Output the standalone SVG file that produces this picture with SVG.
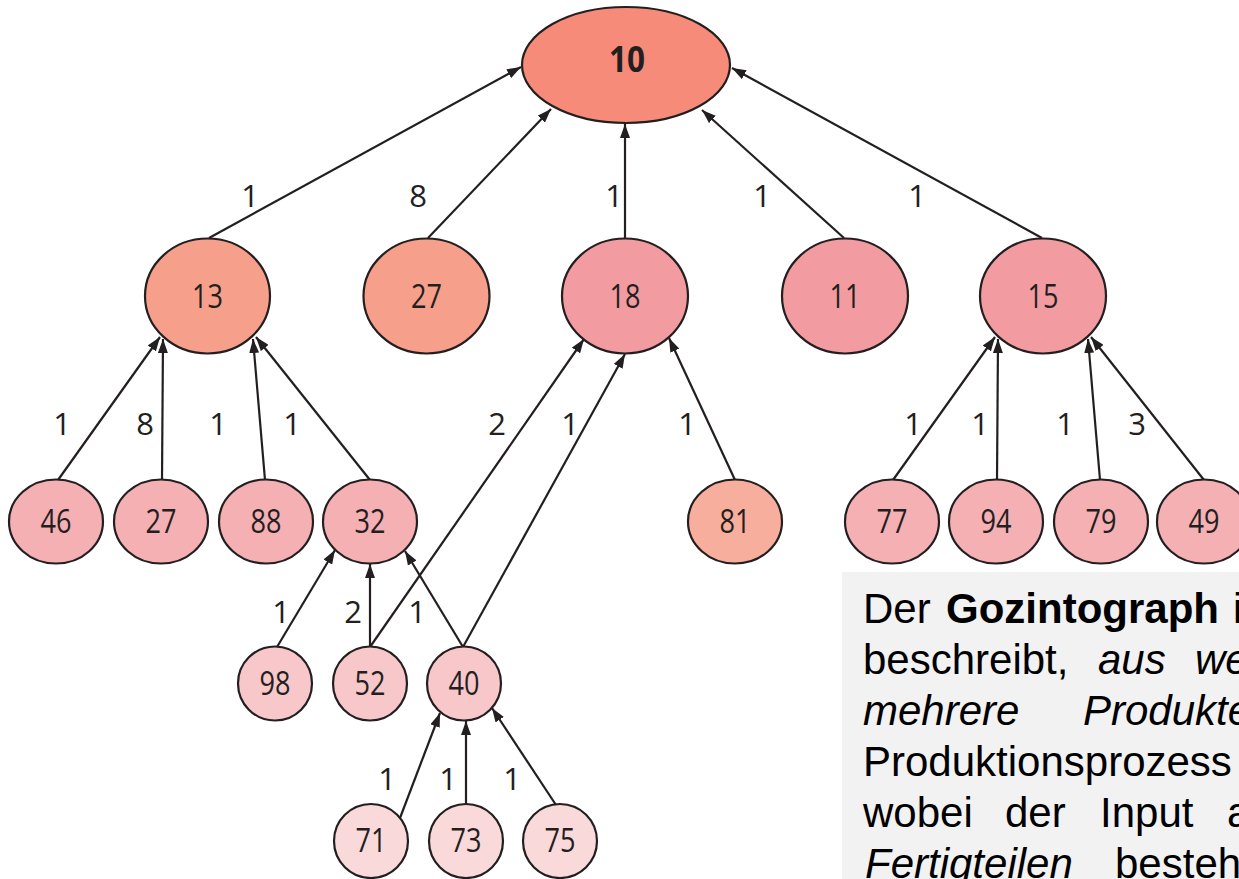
<svg xmlns="http://www.w3.org/2000/svg" width="1239" height="879" viewBox="0 0 1239 879">
<style>
  .n { stroke:#231f20; stroke-width:2.2; }
  .lv0 { fill:#f58b78; }
  .lv1a { fill:#f6a08b; }
  .lv1b { fill:#f29ca1; }
  .lv2 { fill:#f5b0b4; }
  .lv2p { fill:#f8ae9c; }
  .lv3 { fill:#f8c7ca; }
  .lv4 { fill:#fad9db; }
  .t { font-family:"Open Sans","Noto Sans",sans-serif; font-size:33px; fill:#231f20; text-anchor:middle; }
  .tb { font-family:"Open Sans","Noto Sans",sans-serif; font-size:36px; font-weight:bold; fill:#231f20; text-anchor:middle; }
  .e { stroke:#231f20; stroke-width:2.2; fill:none; marker-end:url(#ah); }
  .l { font-family:"Open Sans","Noto Sans",sans-serif; font-size:31px; fill:#231f20; text-anchor:middle; }
  .d { font-family:"Liberation Sans",Arial,sans-serif; font-size:42px; fill:#000; }
  .b { font-weight:bold; }
  .i { font-style:italic; }
</style>
<defs>
  <marker id="ah" viewBox="0 0 14 10" refX="14" refY="5" markerWidth="14" markerHeight="10" markerUnits="userSpaceOnUse" orient="auto">
    <path d="M0,0 L14,5 L0,10 z" fill="#231f20"/>
  </marker>
</defs>
<rect width="1239" height="879" fill="#fff"/>

<g id="connectors">
  <line class="e" x1="209" y1="238" x2="521" y2="67"/>
  <line class="e" x1="428" y1="238" x2="551" y2="109"/>
  <line class="e" x1="625" y1="239" x2="625" y2="124"/>
  <line class="e" x1="844" y1="238" x2="702" y2="110"/>
  <line class="e" x1="1042" y1="238" x2="732" y2="68"/>

  <line class="e" x1="58" y1="480" x2="160" y2="337"/>
  <line class="e" x1="162" y1="480" x2="163" y2="339"/>
  <line class="e" x1="265" y1="480" x2="253" y2="339"/>
  <line class="e" x1="370" y1="480" x2="256" y2="337"/>

  <line class="e" x1="893" y1="480" x2="995" y2="337"/>
  <line class="e" x1="997" y1="480" x2="998" y2="339"/>
  <line class="e" x1="1100" y1="480" x2="1088" y2="339"/>
  <line class="e" x1="1204" y1="480" x2="1091" y2="337"/>

  <line class="e" x1="735" y1="480" x2="669" y2="338"/>
  <line class="e" x1="370" y1="647" x2="584" y2="339"/>
  <line class="e" x1="463" y1="647" x2="625" y2="354"/>

  <line class="e" x1="277" y1="647" x2="335" y2="550"/>
  <line class="e" x1="370" y1="647" x2="370" y2="564"/>
  <line class="e" x1="463" y1="647" x2="405" y2="551"/>

  <line class="e" x1="400" y1="818" x2="440" y2="713"/>
  <line class="e" x1="466" y1="804" x2="466" y2="721"/>
  <line class="e" x1="556" y1="805" x2="492" y2="708"/>

  <g id="edge-labels">
    <text class="l" x="250" y="207">1</text>
    <text class="l" x="418" y="207">8</text>
    <text class="l" x="614" y="207">1</text>
    <text class="l" x="762" y="207">1</text>
    <text class="l" x="917" y="207">1</text>

    <text class="l" x="62" y="435">1</text>
    <text class="l" x="145" y="435">8</text>
    <text class="l" x="218" y="435">1</text>
    <text class="l" x="292" y="435">1</text>
    <text class="l" x="497" y="435">2</text>
    <text class="l" x="570" y="435">1</text>
    <text class="l" x="687" y="435">1</text>
    <text class="l" x="913" y="435">1</text>
    <text class="l" x="980" y="435">1</text>
    <text class="l" x="1065" y="435">1</text>
    <text class="l" x="1137" y="435">3</text>

    <text class="l" x="281" y="623">1</text>
    <text class="l" x="353" y="623">2</text>
    <text class="l" x="417" y="623">1</text>

    <text class="l" x="387" y="790">1</text>
    <text class="l" x="448" y="790">1</text>
    <text class="l" x="512" y="790">1</text>
  </g>
</g>

<g id="n10"><ellipse class="n lv0" cx="626" cy="65" rx="104" ry="58"/><text class="tb" x="627" y="72" textLength="36" lengthAdjust="spacingAndGlyphs">10</text></g>

<g id="n13"><ellipse class="n lv1a" cx="207.5" cy="296" rx="62.5" ry="57.5"/><text class="t" x="207.5" y="308" textLength="31" lengthAdjust="spacingAndGlyphs">13</text></g>
<g id="n27a"><ellipse class="n lv1a" cx="426.5" cy="296" rx="63" ry="57.5"/><text class="t" x="426.5" y="308" textLength="31" lengthAdjust="spacingAndGlyphs">27</text></g>
<g id="n18"><ellipse class="n lv1b" cx="625" cy="296" rx="63" ry="57.5"/><text class="t" x="625" y="308" textLength="31" lengthAdjust="spacingAndGlyphs">18</text></g>
<g id="n11"><ellipse class="n lv1b" cx="845" cy="296" rx="63" ry="57.5"/><text class="t" x="845" y="308" textLength="31" lengthAdjust="spacingAndGlyphs">11</text></g>
<g id="n15"><ellipse class="n lv1b" cx="1043" cy="296" rx="63" ry="57.5"/><text class="t" x="1043" y="308" textLength="31" lengthAdjust="spacingAndGlyphs">15</text></g>

<g id="n46"><ellipse class="n lv2" cx="56" cy="521.5" rx="47" ry="42"/><text class="t" x="56" y="533" textLength="31" lengthAdjust="spacingAndGlyphs">46</text></g>
<g id="n27b"><ellipse class="n lv2" cx="161" cy="521.5" rx="47" ry="42"/><text class="t" x="161" y="533" textLength="31" lengthAdjust="spacingAndGlyphs">27</text></g>
<g id="n88"><ellipse class="n lv2" cx="266" cy="521.5" rx="47" ry="42"/><text class="t" x="266" y="533" textLength="31" lengthAdjust="spacingAndGlyphs">88</text></g>
<g id="n32"><ellipse class="n lv2" cx="370" cy="521.5" rx="47" ry="42"/><text class="t" x="370" y="533" textLength="31" lengthAdjust="spacingAndGlyphs">32</text></g>
<g id="n81"><ellipse class="n lv2p" cx="735" cy="521.5" rx="47" ry="42"/><text class="t" x="735" y="533" textLength="31" lengthAdjust="spacingAndGlyphs">81</text></g>
<g id="n77"><ellipse class="n lv2" cx="892" cy="521.5" rx="47" ry="42"/><text class="t" x="892" y="533" textLength="31" lengthAdjust="spacingAndGlyphs">77</text></g>
<g id="n94"><ellipse class="n lv2" cx="996" cy="521.5" rx="47" ry="42"/><text class="t" x="996" y="533" textLength="31" lengthAdjust="spacingAndGlyphs">94</text></g>
<g id="n79"><ellipse class="n lv2" cx="1101" cy="521.5" rx="47" ry="42"/><text class="t" x="1101" y="533" textLength="31" lengthAdjust="spacingAndGlyphs">79</text></g>
<g id="n49"><ellipse class="n lv2" cx="1204" cy="521.5" rx="47" ry="42"/><text class="t" x="1204" y="533" textLength="31" lengthAdjust="spacingAndGlyphs">49</text></g>

<g id="n98"><circle class="n lv3" cx="275" cy="683.5" r="37"/><text class="t" x="275" y="695" textLength="31" lengthAdjust="spacingAndGlyphs">98</text></g>
<g id="n52"><circle class="n lv3" cx="370" cy="683.5" r="37"/><text class="t" x="370" y="695" textLength="31" lengthAdjust="spacingAndGlyphs">52</text></g>
<g id="n40"><circle class="n lv3" cx="464" cy="683.5" r="37"/><text class="t" x="464" y="695" textLength="31" lengthAdjust="spacingAndGlyphs">40</text></g>

<g id="n71"><circle class="n lv4" cx="371" cy="841" r="37"/><text class="t" x="371" y="852" textLength="31" lengthAdjust="spacingAndGlyphs">71</text></g>
<g id="n73"><circle class="n lv4" cx="466" cy="841" r="37"/><text class="t" x="466" y="852" textLength="31" lengthAdjust="spacingAndGlyphs">73</text></g>
<g id="n75"><circle class="n lv4" cx="560" cy="841" r="37"/><text class="t" x="560" y="852" textLength="31" lengthAdjust="spacingAndGlyphs">75</text></g>

<g id="description">
  <rect x="842" y="572" width="397" height="307" fill="#f2f2f2"/>
  <text class="d" y="623"><tspan x="863">Der</tspan><tspan x="946" class="b">Gozintograph</tspan><tspan x="1233">i</tspan></text>
  <text class="d" y="674"><tspan x="863">beschreibt,</tspan><tspan x="1098" class="i">aus</tspan><tspan x="1195" class="i">we</tspan></text>
  <text class="d i" y="725"><tspan x="863">mehrere</tspan><tspan x="1083">Produkte</tspan></text>
  <text class="d" y="776"><tspan x="863">Produktionsprozess</tspan></text>
  <text class="d" y="827"><tspan x="863">wobei</tspan><tspan x="1005">der</tspan><tspan x="1100">Input</tspan><tspan x="1227">a</tspan></text>
  <text class="d" y="878"><tspan x="865" class="i">Fertigteilen</tspan><tspan x="1115">besteh</tspan></text>
</g>
</svg>
